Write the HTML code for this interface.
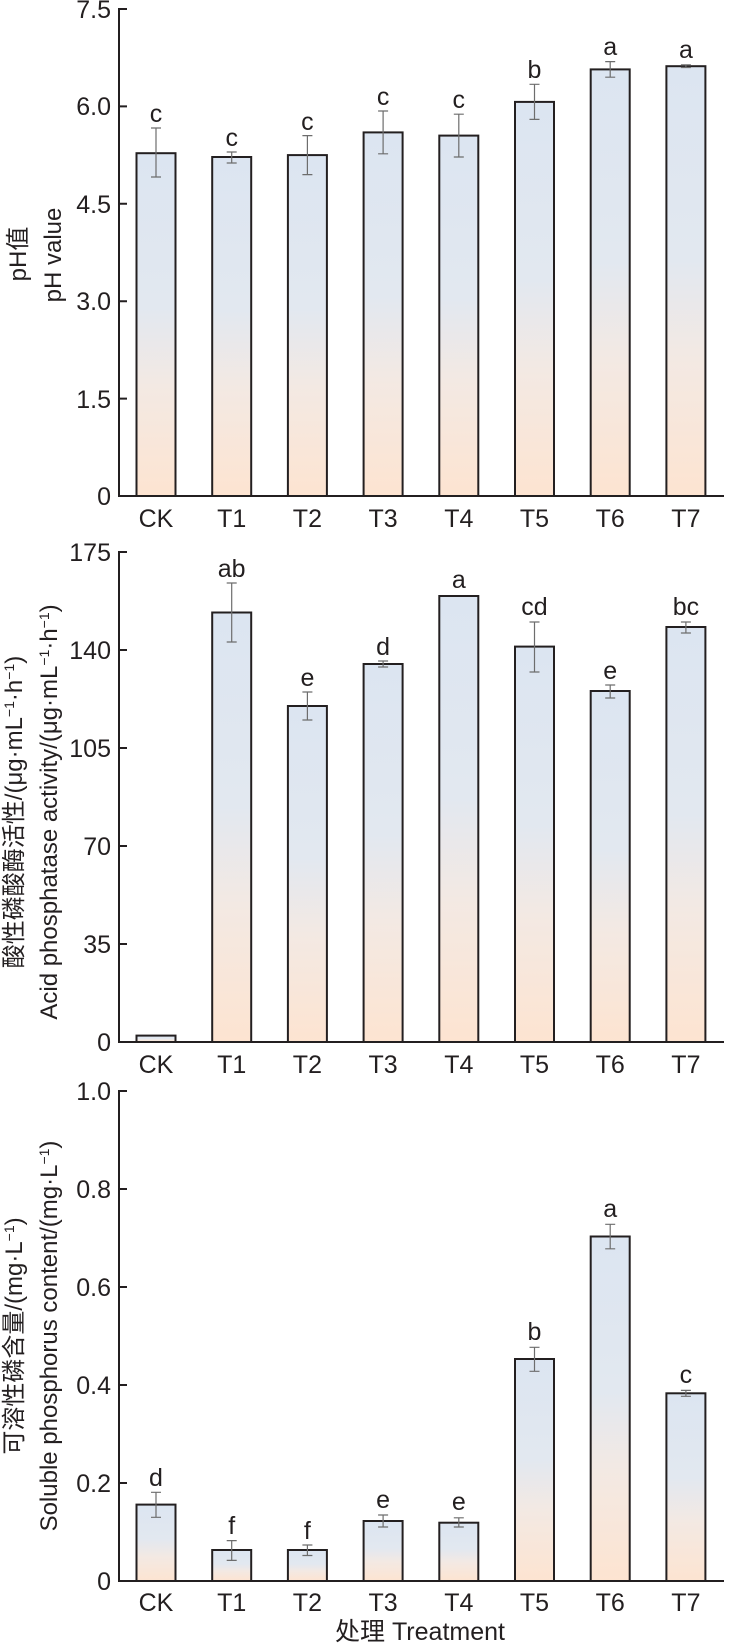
<!DOCTYPE html>
<html><head><meta charset="utf-8"><style>
html,body{margin:0;padding:0;background:#fff}
svg{display:block}
text{font-family:"Liberation Sans","Noto Sans CJK SC",sans-serif;fill:#231f20}
.t{font-size:25px;text-anchor:end}
.c{font-size:25px;text-anchor:middle}
.l{font-size:25px;text-anchor:middle}
.y{font-size:24px;text-anchor:middle}
.b{stroke:#231f20;stroke-width:2;fill:url(#g)}
.e{stroke:#6d6d6d;stroke-width:1.2;fill:none}
.a{stroke:#231f20;stroke-width:2;fill:none}
</style></head><body>
<svg width="729" height="1643" viewBox="0 0 729 1643" xmlns="http://www.w3.org/2000/svg">
<defs><linearGradient id="g" x1="0" y1="0" x2="0" y2="1">
<stop offset="0" stop-color="#dce5f1"/><stop offset="0.45" stop-color="#e2e8f0"/><stop offset="0.68" stop-color="#f3e9e3"/><stop offset="1" stop-color="#fde4d1"/></linearGradient></defs>

<!-- Chart 1 -->
<path class="a" d="M127 9H119V496H724"/>
<path class="a" d="M119 106.4H127M119 203.8H127M119 301.2H127M119 398.6H127"/>
<text class="t" x="111" y="18">7.5</text><text class="t" x="111" y="115">6.0</text><text class="t" x="111" y="213">4.5</text><text class="t" x="111" y="310">3.0</text><text class="t" x="111" y="408">1.5</text><text class="t" x="111" y="505">0</text>
<rect class="b" x="136.5" y="153.2" width="39" height="342.8"/>
<rect class="b" x="212.2" y="157" width="39" height="339"/>
<rect class="b" x="287.9" y="155.1" width="39" height="340.9"/>
<rect class="b" x="363.6" y="132.4" width="39" height="363.6"/>
<rect class="b" x="439.3" y="135.6" width="39" height="360.4"/>
<rect class="b" x="515" y="101.9" width="39" height="394.1"/>
<rect class="b" x="590.7" y="69.4" width="39" height="426.6"/>
<rect class="b" x="666.4" y="66.2" width="39" height="429.8"/>
<path class="e" d="M156 128V177M151 128H161M151 177H161
M231.7 152V163M226.7 152H236.7M226.7 163H236.7
M307.4 135.6V174.6M302.4 135.6H312.4M302.4 174.6H312.4
M383.1 111V153.8M378.1 111H388.1M378.1 153.8H388.1
M458.8 114.2V157M453.8 114.2H463.8M453.8 157H463.8
M534.5 84.3V119.4M529.5 84.3H539.5M529.5 119.4H539.5
M610.2 61.6V77.2M605.2 61.6H615.2M605.2 77.2H615.2
M685.9 64.9V67.5M680.9 64.9H690.9M680.9 67.5H690.9"/>
<text class="l" x="156" y="122">c</text><text class="l" x="231.7" y="146">c</text><text class="l" x="307.4" y="130">c</text><text class="l" x="383.1" y="105">c</text><text class="l" x="458.8" y="108">c</text><text class="l" x="534.5" y="78">b</text><text class="l" x="610.2" y="55">a</text><text class="l" x="685.9" y="58">a</text>
<text class="c" x="156" y="527">CK</text><text class="c" x="231.7" y="527">T1</text><text class="c" x="307.4" y="527">T2</text><text class="c" x="383.1" y="527">T3</text><text class="c" x="458.8" y="527">T4</text><text class="c" x="534.5" y="527">T5</text><text class="c" x="610.2" y="527">T6</text><text class="c" x="685.9" y="527">T7</text>
<text class="y" transform="translate(26,254) rotate(-90)">pH值</text>
<text class="y" transform="translate(61,255) rotate(-90)">pH value</text>

<!-- Chart 2 -->
<path class="a" d="M127 552H119V1042H724"/>
<path class="a" d="M119 650H127M119 748H127M119 846H127M119 944H127"/>
<text class="t" x="111" y="561">175</text><text class="t" x="111" y="659">140</text><text class="t" x="111" y="757">105</text><text class="t" x="111" y="855">70</text><text class="t" x="111" y="953">35</text><text class="t" x="111" y="1051">0</text>
<rect class="b" x="136.5" y="1035.6" width="39" height="6.4"/>
<rect class="b" x="212.2" y="612.5" width="39" height="429.5"/>
<rect class="b" x="287.9" y="706" width="39" height="336"/>
<rect class="b" x="363.6" y="664" width="39" height="378"/>
<rect class="b" x="439.3" y="596" width="39" height="446"/>
<rect class="b" x="515" y="646.6" width="39" height="395.4"/>
<rect class="b" x="590.7" y="691" width="39" height="351"/>
<rect class="b" x="666.4" y="627" width="39" height="415"/>
<path class="e" d="M231.7 583V642M226.7 583H236.7M226.7 642H236.7
M307.4 692V720M302.4 692H312.4M302.4 720H312.4
M383.1 661V667M378.1 661H388.1M378.1 667H388.1
M534.5 622V672M529.5 622H539.5M529.5 672H539.5
M610.2 685V698M605.2 685H615.2M605.2 698H615.2
M685.9 622V633M680.9 622H690.9M680.9 633H690.9"/>
<text class="l" x="231.7" y="577">ab</text><text class="l" x="307.4" y="686">e</text><text class="l" x="383.1" y="655">d</text><text class="l" x="458.8" y="588">a</text><text class="l" x="534.5" y="615">cd</text><text class="l" x="610.2" y="679">e</text><text class="l" x="685.9" y="615">bc</text>
<text class="c" x="156" y="1073">CK</text><text class="c" x="231.7" y="1073">T1</text><text class="c" x="307.4" y="1073">T2</text><text class="c" x="383.1" y="1073">T3</text><text class="c" x="458.8" y="1073">T4</text><text class="c" x="534.5" y="1073">T5</text><text class="c" x="610.2" y="1073">T6</text><text class="c" x="685.9" y="1073">T7</text>
<text class="y" transform="translate(22,812) rotate(-90)">酸性磷酸酶活性/(μg·mL<tspan dy="-8" font-size="14">−1</tspan><tspan dy="8">·h</tspan><tspan dy="-8" font-size="14">−1</tspan><tspan dy="8">)</tspan></text>
<text class="y" transform="translate(57,812) rotate(-90)">Acid phosphatase activity/(μg·mL<tspan dy="-8" font-size="14">−1</tspan><tspan dy="8">·h</tspan><tspan dy="-8" font-size="14">−1</tspan><tspan dy="8">)</tspan></text>

<!-- Chart 3 -->
<path class="a" d="M127 1091H119V1581H724"/>
<path class="a" d="M119 1189H127M119 1287H127M119 1385H127M119 1483H127"/>
<text class="t" x="111" y="1100">1.0</text><text class="t" x="111" y="1198">0.8</text><text class="t" x="111" y="1296">0.6</text><text class="t" x="111" y="1394">0.4</text><text class="t" x="111" y="1492">0.2</text><text class="t" x="111" y="1590">0</text>
<rect class="b" x="136.5" y="1504.6" width="39" height="76.4"/>
<rect class="b" x="212.2" y="1550" width="39" height="31"/>
<rect class="b" x="287.9" y="1550" width="39" height="31"/>
<rect class="b" x="363.6" y="1521" width="39" height="60"/>
<rect class="b" x="439.3" y="1522.7" width="39" height="58.3"/>
<rect class="b" x="515" y="1359" width="39" height="222"/>
<rect class="b" x="590.7" y="1236.5" width="39" height="344.5"/>
<rect class="b" x="666.4" y="1393.3" width="39" height="187.7"/>
<path class="e" d="M156 1492.3V1517.3M151 1492.3H161M151 1517.3H161
M231.7 1540.6V1560.4M226.7 1540.6H236.7M226.7 1560.4H236.7
M307.4 1545V1555.5M302.4 1545H312.4M302.4 1555.5H312.4
M383.1 1515V1527M378.1 1515H388.1M378.1 1527H388.1
M458.8 1517.8V1527M453.8 1517.8H463.8M453.8 1527H463.8
M534.5 1347.3V1371.3M529.5 1347.3H539.5M529.5 1371.3H539.5
M610.2 1224.3V1248.8M605.2 1224.3H615.2M605.2 1248.8H615.2
M685.9 1390.4V1396.3M680.9 1390.4H690.9M680.9 1396.3H690.9"/>
<text class="l" x="156" y="1486">d</text><text class="l" x="231.7" y="1534">f</text><text class="l" x="307.4" y="1539">f</text><text class="l" x="383.1" y="1508">e</text><text class="l" x="458.8" y="1510">e</text><text class="l" x="534.5" y="1340">b</text><text class="l" x="610.2" y="1217">a</text><text class="l" x="685.9" y="1383">c</text>
<text class="c" x="156" y="1611">CK</text><text class="c" x="231.7" y="1611">T1</text><text class="c" x="307.4" y="1611">T2</text><text class="c" x="383.1" y="1611">T3</text><text class="c" x="458.8" y="1611">T4</text><text class="c" x="534.5" y="1611">T5</text><text class="c" x="610.2" y="1611">T6</text><text class="c" x="685.9" y="1611">T7</text>
<text class="c" x="420" y="1640">处理 Treatment</text>
<text class="y" transform="translate(22,1336) rotate(-90)">可溶性磷含量/(mg·L<tspan dy="-8" font-size="14">−1</tspan><tspan dy="8">)</tspan></text>
<text class="y" transform="translate(57,1336) rotate(-90)">Soluble phosphorus content/(mg·L<tspan dy="-8" font-size="14">−1</tspan><tspan dy="8">)</tspan></text>
</svg>
</body></html>
